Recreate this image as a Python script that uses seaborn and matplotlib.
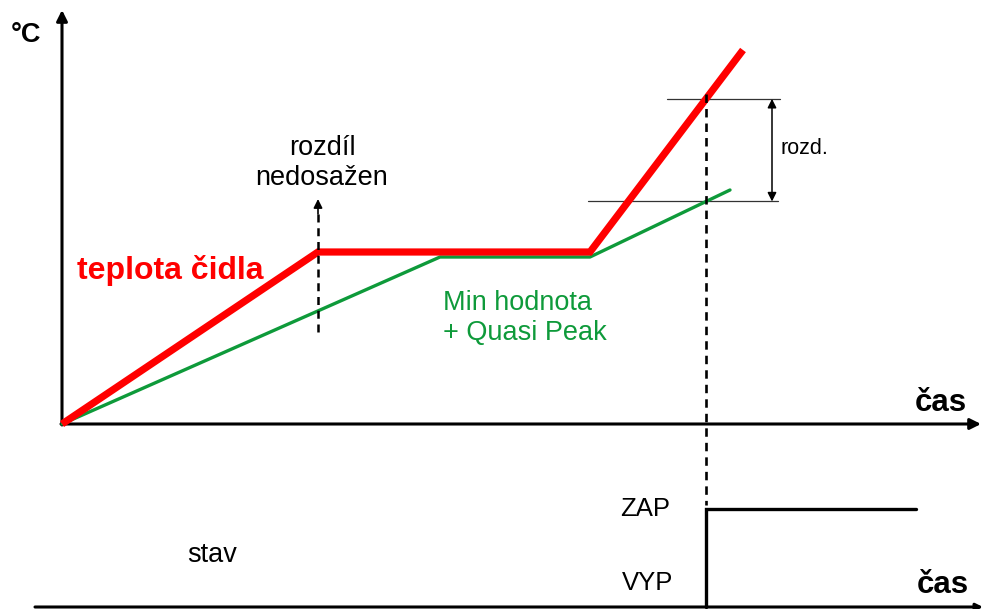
import numpy as np
import pandas as pd
import seaborn as sns
import matplotlib.pyplot as plt

# Sensor temperature and the "min value + quasi peak" reference (time, °C)
red_t = [0, 256, 528, 681]
red_temp = [0, 172, 172, 374]
green_t = [0, 378, 528, 668]
green_temp = [0, 167, 167, 234]

# Moment when the difference is reached, and the output state afterwards
trigger_t = 644
state_t = [644, 644, 854]
state_val = [0, 1, 1]

# Point where the difference was not yet reached
plateau_t = 256

sns.set_theme(style="white")
plt.rcParams["font.family"] = ["Liberation Sans", "DejaVu Sans"]
plt.rcParams["text.color"] = "black"

fig = plt.figure(figsize=(9.83, 6.09), dpi=100)
ax = fig.add_axes([0, 0, 1, 1])
ax.set_xlim(-62, 921)
ax.set_ylim(-185, 424)
ax.axis("off")

red_df = pd.DataFrame({"t": red_t, "temp": red_temp})
green_df = pd.DataFrame({"t": green_t, "temp": green_temp})

sns.lineplot(data=green_df, x="t", y="temp", ax=ax, color="#0e9a3a", lw=2.4,
             sort=False, estimator=None, zorder=3)
sns.lineplot(data=red_df, x="t", y="temp", ax=ax, color="#ff0000", lw=5.2,
             sort=False, estimator=None, zorder=4,
             solid_joinstyle="miter", solid_capstyle="butt")

# Temperature axes
arrow = dict(arrowstyle="-|>", color="black", lw=2.2, mutation_scale=16,
             shrinkA=0, shrinkB=0)
ax.annotate("", xy=(0, 414), xytext=(0, -1), arrowprops=arrow, zorder=2)
ax.annotate("", xy=(919, 0), xytext=(-1, 0), arrowprops=arrow, zorder=2)
ax.text(-51, 389, "°C", fontsize=19.5, fontweight="bold", va="center", ha="left")
ax.text(853, 21, "čas", fontsize=22.5, fontweight="bold", va="center", ha="left")

# Difference reached: levels of both curves at the trigger time
red_level = np.interp(trigger_t, red_t, red_temp)
green_level = np.interp(trigger_t, green_t, green_temp)
ax.plot([605, 718], [red_level, red_level], color="#333333", lw=0.9, zorder=2)
ax.plot([526, 716], [green_level, green_level], color="#333333", lw=0.9, zorder=2)
ax.annotate("", xy=(710, red_level), xytext=(710, green_level),
            arrowprops=dict(arrowstyle="<|-|>", color="black", lw=1.1,
                            mutation_scale=13, shrinkA=0, shrinkB=0))
ax.text(719, (red_level + green_level) / 2 + 2, "rozd.", fontsize=15.5,
        va="center", ha="left")

ax.plot([trigger_t, trigger_t], [330, -81], color="black", lw=1.9,
        dashes=(3.2, 2.3), zorder=5)

# Difference not reached at the end of the first ramp
ax.plot([plateau_t, plateau_t], [92, 213], color="black", lw=1.8,
        dashes=(3.2, 2.3), zorder=5)
ax.annotate("", xy=(plateau_t, 225), xytext=(plateau_t, 210),
            arrowprops=dict(arrowstyle="-|>", color="black", lw=1.2,
                            mutation_scale=13, shrinkA=0, shrinkB=0))
ax.text(plateau_t + 4, 261, "rozdíl\nnedosažen", fontsize=19.5, ha="center",
        va="center", linespacing=1.17)

ax.text(15, 154, "teplota čidla", fontsize=23, fontweight="bold",
        color="#ff0000", va="center", ha="left")
ax.text(381, 106, "Min hodnota\n+ Quasi Peak", fontsize=19.5, color="#0e9a3a",
        va="center", ha="left", linespacing=1.17)

# Output state panel
ax2 = fig.add_axes([0, 0, 1, 1], sharex=ax)
bottom_px, zap_px = 2 / 609, 100 / 609
scale = zap_px - bottom_px
ax2.set_ylim(-bottom_px / scale, (1 - bottom_px) / scale)
ax2.axis("off")
ax2.patch.set_alpha(0)

ax2.plot(state_t, state_val, color="black", lw=2.4, solid_joinstyle="miter",
         zorder=4)
ax2.annotate("", xy=(921, 0), xytext=(-27, 0),
             arrowprops=dict(arrowstyle="-|>", color="black", lw=2.2,
                             mutation_scale=10, shrinkA=0, shrinkB=0))
ax2.text(125, 0.53, "stav", fontsize=19.5, va="center", ha="left")
ax2.text(558, 1.0, "ZAP", fontsize=18.5, va="center", ha="left")
ax2.text(560, 0.25, "VYP", fontsize=18.5, va="center", ha="left")
ax2.text(855, 0.22, "čas", fontsize=22.5, fontweight="bold", va="center",
         ha="left")

fig.savefig("out.png", dpi=100)
